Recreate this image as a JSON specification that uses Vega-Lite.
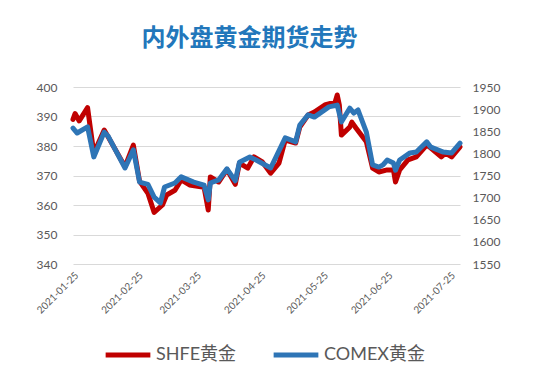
{
  "$schema": "https://vega.github.io/schema/vega-lite/v6.json",
  "width": 387,
  "height": 177,
  "autosize": "none",
  "padding": {"left": 73, "top": 87, "right": 99, "bottom": 119},
  "background": "white",
  "title": {
    "text": "内外盘黄金期货走势",
    "font": "Noto Sans CJK SC",
    "fontSize": 24,
    "fontWeight": "bold",
    "color": "#2277BB",
    "anchor": "middle",
    "dx": -17,
    "offset": 30
  },
  "config": {
    "view": {"stroke": null},
    "axis": {"labelFont": "Lato, Noto Sans CJK SC", "labelColor": "#595959", "domain": false, "ticks": false}
  },
  "datasets": {
    "shfe": [
      {"date": "2021-01-25", "value": 389},
      {"date": "2021-01-26", "value": 391},
      {"date": "2021-01-28", "value": 388.5},
      {"date": "2021-02-01", "value": 393},
      {"date": "2021-02-04", "value": 377.5},
      {"date": "2021-02-09", "value": 385.4},
      {"date": "2021-02-11", "value": 383},
      {"date": "2021-02-19", "value": 373},
      {"date": "2021-02-23", "value": 380.3},
      {"date": "2021-02-26", "value": 368},
      {"date": "2021-03-02", "value": 364},
      {"date": "2021-03-05", "value": 357.5},
      {"date": "2021-03-09", "value": 360},
      {"date": "2021-03-11", "value": 363.4},
      {"date": "2021-03-15", "value": 365},
      {"date": "2021-03-18", "value": 368.5},
      {"date": "2021-03-22", "value": 366.8},
      {"date": "2021-03-29", "value": 366},
      {"date": "2021-03-31", "value": 358.3},
      {"date": "2021-04-01", "value": 369.5},
      {"date": "2021-04-05", "value": 367.8},
      {"date": "2021-04-09", "value": 372},
      {"date": "2021-04-13", "value": 367},
      {"date": "2021-04-15", "value": 374.2},
      {"date": "2021-04-19", "value": 372.5},
      {"date": "2021-04-22", "value": 376.3},
      {"date": "2021-04-26", "value": 374.6},
      {"date": "2021-04-30", "value": 370.8},
      {"date": "2021-05-04", "value": 374.2},
      {"date": "2021-05-07", "value": 382},
      {"date": "2021-05-12", "value": 381},
      {"date": "2021-05-14", "value": 386.4},
      {"date": "2021-05-18", "value": 390.5},
      {"date": "2021-05-21", "value": 391.5},
      {"date": "2021-05-26", "value": 393.9},
      {"date": "2021-05-31", "value": 394.9},
      {"date": "2021-06-01", "value": 397.3},
      {"date": "2021-06-02", "value": 393.9},
      {"date": "2021-06-03", "value": 383.7},
      {"date": "2021-06-07", "value": 386.4},
      {"date": "2021-06-08", "value": 388.1},
      {"date": "2021-06-10", "value": 386.1},
      {"date": "2021-06-15", "value": 381.4},
      {"date": "2021-06-18", "value": 372.5},
      {"date": "2021-06-21", "value": 371.2},
      {"date": "2021-06-25", "value": 371.9},
      {"date": "2021-06-28", "value": 371.9},
      {"date": "2021-06-29", "value": 367.8},
      {"date": "2021-07-01", "value": 371.9},
      {"date": "2021-07-05", "value": 375.3},
      {"date": "2021-07-09", "value": 376.3},
      {"date": "2021-07-14", "value": 380.3},
      {"date": "2021-07-16", "value": 379.3},
      {"date": "2021-07-21", "value": 376.3},
      {"date": "2021-07-23", "value": 377.6},
      {"date": "2021-07-26", "value": 376.3},
      {"date": "2021-07-30", "value": 379.7}
    ],
    "comex": [
      {"date": "2021-01-25", "value": 1857},
      {"date": "2021-01-27", "value": 1846},
      {"date": "2021-02-01", "value": 1860},
      {"date": "2021-02-04", "value": 1792},
      {"date": "2021-02-09", "value": 1848},
      {"date": "2021-02-11", "value": 1838},
      {"date": "2021-02-19", "value": 1767},
      {"date": "2021-02-23", "value": 1808},
      {"date": "2021-02-26", "value": 1735},
      {"date": "2021-03-02", "value": 1730},
      {"date": "2021-03-05", "value": 1701},
      {"date": "2021-03-08", "value": 1688},
      {"date": "2021-03-10", "value": 1724},
      {"date": "2021-03-15", "value": 1733},
      {"date": "2021-03-18", "value": 1747},
      {"date": "2021-03-24", "value": 1735},
      {"date": "2021-03-29", "value": 1728},
      {"date": "2021-03-31", "value": 1695},
      {"date": "2021-04-01", "value": 1733},
      {"date": "2021-04-05", "value": 1740},
      {"date": "2021-04-09", "value": 1765},
      {"date": "2021-04-13", "value": 1738},
      {"date": "2021-04-15", "value": 1780},
      {"date": "2021-04-20", "value": 1792},
      {"date": "2021-04-23", "value": 1785},
      {"date": "2021-04-30", "value": 1767},
      {"date": "2021-05-07", "value": 1835},
      {"date": "2021-05-12", "value": 1826},
      {"date": "2021-05-14", "value": 1864},
      {"date": "2021-05-18", "value": 1887},
      {"date": "2021-05-21", "value": 1882},
      {"date": "2021-05-28", "value": 1905},
      {"date": "2021-06-01", "value": 1909},
      {"date": "2021-06-03", "value": 1871},
      {"date": "2021-06-07", "value": 1902},
      {"date": "2021-06-09", "value": 1891},
      {"date": "2021-06-11", "value": 1898},
      {"date": "2021-06-15", "value": 1848},
      {"date": "2021-06-18", "value": 1774},
      {"date": "2021-06-21", "value": 1769},
      {"date": "2021-06-23", "value": 1774},
      {"date": "2021-06-25", "value": 1785},
      {"date": "2021-06-28", "value": 1778},
      {"date": "2021-06-29", "value": 1762},
      {"date": "2021-07-01", "value": 1785},
      {"date": "2021-07-06", "value": 1801},
      {"date": "2021-07-09", "value": 1803},
      {"date": "2021-07-14", "value": 1826},
      {"date": "2021-07-16", "value": 1814},
      {"date": "2021-07-22", "value": 1803},
      {"date": "2021-07-26", "value": 1801},
      {"date": "2021-07-30", "value": 1823}
    ]
  },
  "encoding": {
    "x": {
      "field": "date",
      "type": "temporal",
      "scale": {"domain": [{"year": 2021, "month": 1, "date": 25}, {"year": 2021, "month": 7, "date": 30}]},
      "axis": {
        "title": null,
        "format": "%Y-%m-%d",
        "values": [
          {"year": 2021, "month": 1, "date": 25},
          {"year": 2021, "month": 2, "date": 25},
          {"year": 2021, "month": 3, "date": 25},
          {"year": 2021, "month": 4, "date": 25},
          {"year": 2021, "month": 5, "date": 25},
          {"year": 2021, "month": 6, "date": 25},
          {"year": 2021, "month": 7, "date": 25}
        ],
        "labelAngle": -45,
        "labelAlign": "right",
        "labelBaseline": "top",
        "labelFontSize": 10,
        "labelPadding": 6,
        "grid": false,
        "labelBound": false,
        "labelOverlap": false
      }
    }
  },
  "layer": [
    {
      "data": {"name": "shfe"},
      "mark": {"type": "line", "strokeWidth": 5, "strokeJoin": "round", "strokeCap": "round"},
      "encoding": {
        "y": {
          "field": "value",
          "type": "quantitative",
          "scale": {"domain": [340, 400], "nice": false, "zero": false},
          "axis": {
            "orient": "left",
            "title": null,
            "values": [340, 350, 360, 370, 380, 390, 400],
            "labelFontSize": 12,
            "labelPadding": 16,
            "grid": true,
            "gridColor": "#D9D9D9",
            "gridWidth": 1.2
          }
        },
        "color": {
          "datum": "SHFE黄金",
          "type": "nominal",
          "scale": {"domain": ["SHFE黄金", "COMEX黄金"], "range": ["#C00000", "#2E75B6"]},
          "legend": {
            "title": null,
            "orient": "none",
            "direction": "horizontal",
            "legendX": 30,
            "legendY": 243,
            "symbolType": "stroke",
            "symbolSize": 2000,
            "symbolStrokeWidth": 5,
            "labelFont": "Lato, Noto Sans CJK SC",
            "labelFontSize": 18,
            "labelColor": "#595959",
            "labelOffset": 3,
            "columnPadding": 26,
            "labelLimit": 200
          }
        }
      }
    },
    {
      "data": {"name": "comex"},
      "mark": {"type": "line", "strokeWidth": 5, "strokeJoin": "round", "strokeCap": "round"},
      "encoding": {
        "y": {
          "field": "value",
          "type": "quantitative",
          "scale": {"domain": [1550, 1950], "nice": false, "zero": false},
          "axis": {
            "orient": "right",
            "title": null,
            "format": "d",
            "values": [1550, 1600, 1650, 1700, 1750, 1800, 1850, 1900, 1950],
            "labelFontSize": 12,
            "labelPadding": 12,
            "grid": false
          }
        },
        "color": {"datum": "COMEX黄金", "type": "nominal"}
      }
    }
  ],
  "resolve": {"scale": {"y": "independent"}}
}
